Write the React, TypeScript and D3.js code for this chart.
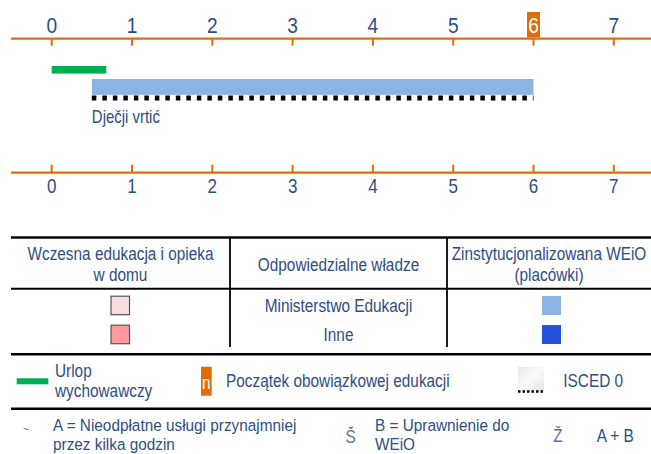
import React from 'react';
import * as d3 from 'd3';

// age axis (years)
const ages = [0, 1, 2, 3, 4, 5, 6, 7];
const compulsoryAge = 6;

// provision bars: [start, end] in years
const leaveSpan = [0, 0.68];
const kindergartenSpan = [0.5, 6];
const kindergartenLabel = 'Dječji vrtić';

// table
const headers = ['Wczesna edukacja i opieka\nw domu', 'Odpowiedzialne władze', 'Zinstytucjonalizowana WEiO\n(placówki)'];
const authorities = ['Ministerstwo Edukacji', 'Inne'];
const homeColors = ['#F9DCDD', '#FF9AA2'];
const centreColors = ['#8DB3E2', '#2352DB'];

const ORANGE = '#E36C0A';
const TEXT = '#2E4E83';
const SYMBOL = '#5572A0';
const FONT = "'Liberation Sans', Arial, sans-serif";

type TProps = {
  x: number;
  y: number;
  size?: number;
  sx?: number;
  anchor?: 'start' | 'middle' | 'end';
  fill?: string;
  lineHeight?: number;
  children: string;
};

// condensed text (the original face is a narrow one), split on \n
function T({ x, y, size = 18.5, sx = 0.83, anchor = 'start', fill = TEXT, lineHeight = 20, children }: TProps) {
  const lines = children.split('\n');
  return (
    <text
      transform={`translate(${x} ${y}) scale(${sx} 1)`}
      fontSize={size}
      textAnchor={anchor}
      fill={fill}
    >
      {lines.map((l, i) => (
        <tspan key={i} x={0} y={i * lineHeight}>
          {l}
        </tspan>
      ))}
    </text>
  );
}

function App() {
  const width = 651;
  const height = 454;

  const x = d3.scaleLinear().domain([0, 7]).range([51.7, 613.8]);

  const topAxisY = 38.7;
  const bottomAxisY = 172.7;

  const colBounds = [11, 230, 447, 651];
  const colCenter = (i: number) => (colBounds[i] + colBounds[i + 1]) / 2;
  const rowY = [305.5, 334.5];

  return (
    <svg
      width={width}
      height={height}
      style={{ position: 'absolute', left: 0, top: 0, fontFamily: FONT }}
    >
      <defs>
        <linearGradient id="iscedFill" x1="0" x2="1" y1="0" y2="1">
          <stop offset="0" stopColor="#e6e6e6" />
          <stop offset="0.5" stopColor="#fbfbfb" />
          <stop offset="1" stopColor="#e2e2e2" />
        </linearGradient>
      </defs>

      {/* top axis */}
      <g>
        <path d={`M 11 ${topAxisY} H ${width}`} stroke={ORANGE} strokeWidth={2.2} />
        {ages.map((a) => (
          <g key={a}>
            <path d={`M ${x(a)} ${topAxisY} V ${topAxisY + 7}`} stroke={ORANGE} strokeWidth={2} />
            {a === compulsoryAge && (
              <rect x={x(a) - 6.5} y={12} width={13} height={25.5} fill={ORANGE} />
            )}
            <T
              x={x(a)}
              y={33.3}
              size={22.5}
              sx={0.85}
              anchor="middle"
              fill={a === compulsoryAge ? '#ffffff' : TEXT}
            >
              {String(a)}
            </T>
          </g>
        ))}
      </g>

      {/* bars */}
      <rect
        x={x(leaveSpan[0])}
        y={66}
        width={x(leaveSpan[1]) - x(leaveSpan[0])}
        height={7.6}
        fill="#00B050"
      />
      <rect
        x={x(kindergartenSpan[0])}
        y={79}
        width={x(kindergartenSpan[1]) - x(kindergartenSpan[0])}
        height={15.8}
        fill="#8DB3E2"
      />
      <path
        d={`M ${x(kindergartenSpan[0])} 98 H ${x(kindergartenSpan[1])}`}
        stroke="#000"
        strokeWidth={5.2}
        strokeDasharray="4.5 6"
      />
      <T x={x(kindergartenSpan[0])} y={123} size={18}>
        {kindergartenLabel}
      </T>

      {/* bottom axis */}
      <g>
        <path d={`M 11 ${bottomAxisY} H ${width}`} stroke={ORANGE} strokeWidth={2.2} />
        {ages.map((a) => (
          <g key={a}>
            <path d={`M ${x(a)} ${bottomAxisY} V ${bottomAxisY - 8}`} stroke={ORANGE} strokeWidth={2} />
            <T x={x(a)} y={193} size={20} sx={0.85} anchor="middle">
              {String(a)}
            </T>
          </g>
        ))}
      </g>

      {/* table */}
      <g>
        <path d="M 11 237.5 H 651" stroke="#000" strokeWidth={2.5} />
        <path d="M 11 288.8 H 651" stroke="#000" strokeWidth={2} />
        <path d="M 11 354.2 H 651" stroke="#000" strokeWidth={2.5} />
        {[colBounds[1], colBounds[2]].map((cx) => (
          <path key={cx} d={`M ${cx} 237.5 V 347`} stroke="#000" strokeWidth={1.8} />
        ))}
        {headers.map((h, i) => (
          <T
            key={h}
            x={colCenter(i)}
            y={h.includes('\n') ? 259.5 : 270.5}
            anchor="middle"
            lineHeight={21.8}
          >
            {h}
          </T>
        ))}
        {authorities.map((name, i) => (
          <g key={name}>
            <rect
              x={111}
              y={rowY[i] - 9.3}
              width={18.5}
              height={18.5}
              fill={homeColors[i]}
              stroke="#555"
              strokeWidth={1.2}
            />
            <T x={colCenter(1)} y={rowY[i] + 6} anchor="middle">
              {name}
            </T>
            <rect x={542} y={rowY[i] - 9.5} width={19} height={19} fill={centreColors[i]} />
          </g>
        ))}
      </g>

      {/* legend row 1 */}
      <g>
        <rect x={16.7} y={378.3} width={31.6} height={6} fill="#00B050" />
        <T x={55} y={376.7}>{'Urlop\nwychowawczy'}</T>

        <rect x={201} y={366.7} width={10.7} height={29} fill={ORANGE} />
        <T x={206.3} y={389} anchor="middle" fill="#fff">
          n
        </T>
        <T x={226} y={387}>Początek obowiązkowej edukacji</T>

        <rect x={518} y={367} width={26} height={24} fill="url(#iscedFill)" />
        <path d="M 518 391.5 H 544" stroke="#000" strokeWidth={2.5} strokeDasharray="2.5 2" />
        <T x={563.3} y={387}>ISCED 0</T>
        <path d="M 11 408.8 H 651" stroke="#000" strokeWidth={2.5} />
      </g>

      {/* legend row 2 */}
      <g>
        <T x={26} y={433} anchor="middle" size={12} fill={SYMBOL}>~</T>
        <T x={53} y={431} size={16.5} sx={0.93} lineHeight={18.6}>
          {'A = Nieodpłatne usługi przynajmniej\nprzez kilka godzin'}
        </T>

        <T x={350.5} y={443} anchor="middle" fill={SYMBOL}>Š</T>
        <T x={375} y={431} size={16.5} sx={0.93} lineHeight={18.6}>
          {'B = Uprawnienie do\nWEiO'}
        </T>

        <T x={558} y={442} anchor="middle" fill={SYMBOL}>Ž</T>
        <T x={596.7} y={442}>A + B</T>
      </g>
    </svg>
  );
}

export default App;
